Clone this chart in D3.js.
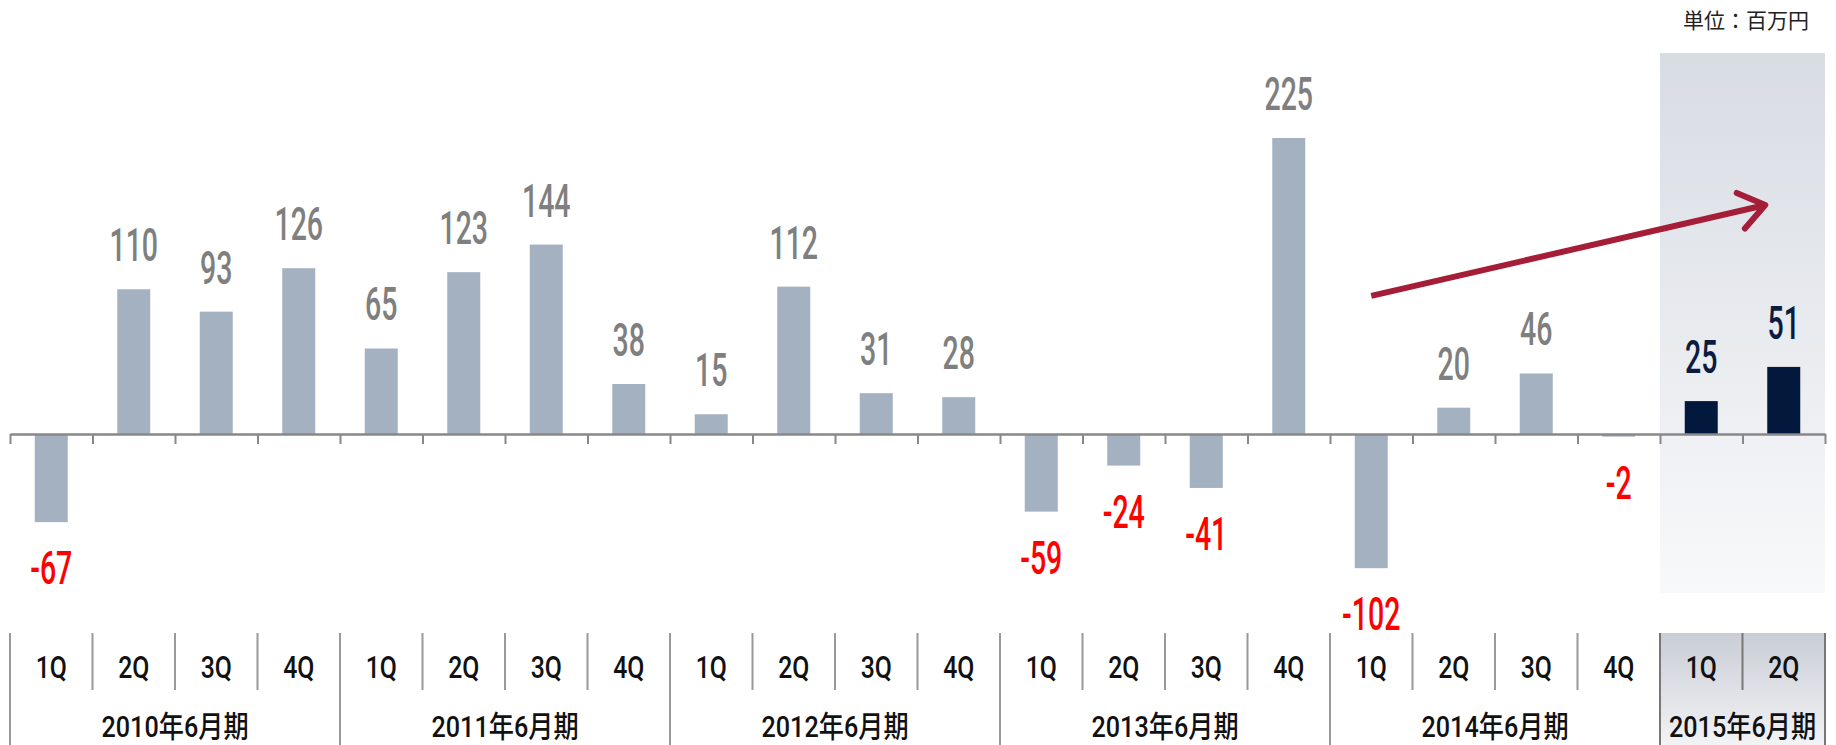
<!DOCTYPE html>
<html>
<head>
<meta charset="utf-8">
<script src="https://cdn.jsdelivr.net/npm/d3@7"></script>
<style>
  body { margin: 0; background: #fff; }
  svg { display: block; }
</style>
</head>
<body>
<div id="chart"></div>
<script>
// Fiscal years (June year-end) and quarters
const years = ['2010年6月期', '2011年6月期', '2012年6月期', '2013年6月期', '2014年6月期', '2015年6月期'];
const quarters = ['1Q', '2Q', '3Q', '4Q'];
const quartersPerYear = [4, 4, 4, 4, 4, 2];

// Quarterly values (百万円)
const values = [
    -67, 110, 93, 126,
    65, 123, 144, 38,
    15, 112, 31, 28,
    -59, -24, -41, 225,
    -102, 20, 46, -2,
    25, 51
];
const highlightYear = '2015年6月期';
const unitLabel = '単位：百万円';

// Build rows
const rows = [];
years.forEach((yr, yi) => {
    for (let q = 0; q < quartersPerYear[yi]; q++) {
        rows.push({ id: yr + quarters[q], year: yr, quarter: quarters[q], value: values[rows.length] });
    }
});

const width = 1836, height = 745;
const left = 10, right = 1825;
const zeroY = 434;

const svg = d3.select('#chart')
    .append('svg')
    .attr('width', width)
    .attr('height', height);

const defs = svg.append('defs');
const g1 = defs.append('linearGradient').attr('id', 'hl').attr('x1', 0).attr('y1', 0).attr('x2', 0).attr('y2', 1);
g1.append('stop').attr('offset', '0%').attr('stop-color', '#d8dce3');
g1.append('stop').attr('offset', '70%').attr('stop-color', '#eef0f3');
g1.append('stop').attr('offset', '100%').attr('stop-color', '#f8f9fa');
const g2 = defs.append('linearGradient').attr('id', 'hlAxis').attr('x1', 0).attr('y1', 0).attr('x2', 0).attr('y2', 1);
g2.append('stop').attr('offset', '0%').attr('stop-color', '#c9cdd5');
g2.append('stop').attr('offset', '100%').attr('stop-color', '#f2f3f5');

// Scales
const x = d3.scaleBand()
    .domain(rows.map(d => d.id))
    .range([left, right])
    .paddingInner(0.6)
    .paddingOuter(0.3);

const cell = d3.scaleBand()
    .domain(rows.map(d => d.id))
    .range([left, right]);

const idx = d3.scaleLinear().domain([0, rows.length]).range([left, right]);

const y = d3.scaleLinear()
    .domain([0, 225])
    .range([zeroY, 138]);

// Highlight band
const hlRows = rows.filter(d => d.year === highlightYear);
const hlX0 = cell(hlRows[0].id);
const hlX1 = cell(hlRows[hlRows.length - 1].id) + cell.bandwidth();
svg.append('rect')
    .attr('x', hlX0).attr('y', 53)
    .attr('width', hlX1 - hlX0).attr('height', 593 - 53)
    .attr('fill', 'url(#hl)');

// Unit label
svg.append('text')
    .attr('x', 1809).attr('y', 28)
    .attr('text-anchor', 'end')
    .attr('font-family', '"Noto Sans CJK JP", sans-serif')
    .attr('font-size', 21)
    .attr('fill', '#222')
    .text(unitLabel);

// Bars
svg.selectAll('.bar')
    .data(rows)
    .enter()
    .append('rect')
    .attr('class', 'bar')
    .attr('x', d => x(d.id))
    .attr('y', d => y(Math.max(0, d.value)))
    .attr('width', x.bandwidth())
    .attr('height', d => Math.abs(y(d.value) - y(0)))
    .attr('fill', d => d.year === highlightYear ? '#02183d' : '#a3b1c0');

// Value labels (condensed look via horizontal scaling)
const valColor = d => d.year === highlightYear ? '#0b1c40' : (d.value < 0 ? '#ff0000' : '#7f7f7f');
svg.selectAll('.val')
    .data(rows)
    .enter()
    .append('text')
    .attr('class', 'val')
    .attr('transform', d => {
        const cx = x(d.id) + x.bandwidth() / 2;
        const by = d.value >= 0 ? y(d.value) - 28 : y(d.value) + 62;
        return `translate(${cx},${by}) scale(0.62,1)`;
    })
    .attr('text-anchor', 'middle')
    .attr('font-family', 'Roboto, "Liberation Sans", sans-serif')
    .attr('font-weight', 500)
    .attr('font-size', 46)
    .attr('fill', valColor)
    .text(d => d.value);

// Zero axis with ticks at band boundaries
const axis = svg.append('g')
    .attr('transform', `translate(0,${zeroY})`)
    .call(d3.axisBottom(idx)
        .tickValues(d3.range(rows.length + 1))
        .tickFormat('')
        .tickSize(10)
        .tickSizeOuter(0));
axis.select('.domain').attr('stroke', '#888').attr('stroke-width', 2.5);
axis.selectAll('.tick line').attr('stroke', '#888').attr('stroke-width', 2);

// Trend arrow (from 2014 1Q to 2015 2Q)
const arrowFrom = { id: '2014年6月期1Q', v: 105 };
const arrowTo = { id: '2015年6月期2Q', v: 174 };
const ax0 = x(arrowFrom.id) + x.bandwidth() / 2, ay0 = y(arrowFrom.v);
const ax1 = x(arrowTo.id) - 2, ay1 = y(arrowTo.v);
const ang = Math.atan2(ay1 - ay0, ax1 - ax0);
const headLen = 31, headAng = Math.PI / 5;
const arrowColor = '#a51d36';
svg.append('line')
    .attr('x1', ax0).attr('y1', ay0).attr('x2', ax1 - 3 * Math.cos(ang)).attr('y2', ay1 - 3 * Math.sin(ang))
    .attr('stroke', arrowColor).attr('stroke-width', 6);
svg.append('path')
    .attr('d', d3.line()([
        [ax1 - headLen * Math.cos(ang - headAng), ay1 - headLen * Math.sin(ang - headAng)],
        [ax1, ay1],
        [ax1 - headLen * Math.cos(ang + headAng), ay1 - headLen * Math.sin(ang + headAng)]
    ]))
    .attr('fill', 'none')
    .attr('stroke', arrowColor)
    .attr('stroke-width', 6)
    .attr('stroke-linecap', 'round')
    .attr('stroke-linejoin', 'round');

// Category table under the chart
const tableTop = 633, qBottom = 690, tableBottom = 745;
svg.append('rect')
    .attr('x', hlX0).attr('y', tableTop)
    .attr('width', hlX1 - hlX0).attr('height', tableBottom - tableTop)
    .attr('fill', 'url(#hlAxis)');

// Quarter separators
svg.selectAll('.qsep')
    .data(rows.filter(d => d.quarter !== '1Q'))
    .enter()
    .append('line')
    .attr('x1', d => cell(d.id)).attr('x2', d => cell(d.id))
    .attr('y1', tableTop).attr('y2', qBottom)
    .attr('stroke', d => d.year === highlightYear ? '#777' : '#999')
    .attr('stroke-width', 2);

// Year separators (including right edge)
const yearEdges = rows.filter(d => d.quarter === '1Q').map(d => ({ x: cell(d.id), year: d.year }));
yearEdges.push({ x: right, year: highlightYear });
svg.selectAll('.ysep')
    .data(yearEdges)
    .enter()
    .append('line')
    .attr('x1', d => d.x).attr('x2', d => d.x)
    .attr('y1', tableTop).attr('y2', tableBottom)
    .attr('stroke', d => d.year === highlightYear ? '#777' : '#999')
    .attr('stroke-width', 2);

const labelFont = 'Roboto, "Noto Sans CJK JP", sans-serif';
svg.selectAll('.qlab')
    .data(rows)
    .enter()
    .append('text')
    .attr('transform', d => `translate(${cell(d.id) + cell.bandwidth() / 2},678) scale(0.8,1)`)
    .attr('text-anchor', 'middle')
    .attr('font-family', labelFont)
    .attr('font-weight', 500)
    .attr('font-size', 31)
    .attr('fill', '#111')
    .text(d => d.quarter);

svg.selectAll('.ylab')
    .data(years)
    .enter()
    .append('text')
    .attr('transform', yr => {
        const r = rows.filter(d => d.year === yr);
        const cx = (cell(r[0].id) + cell(r[r.length - 1].id) + cell.bandwidth()) / 2;
        return `translate(${cx},737) scale(0.84,1)`;
    })
    .attr('text-anchor', 'middle')
    .attr('font-family', labelFont)
    .attr('font-weight', 500)
    .attr('font-size', 30)
    .attr('fill', '#111')
    .text(d => d);
</script>
</body>
</html>
